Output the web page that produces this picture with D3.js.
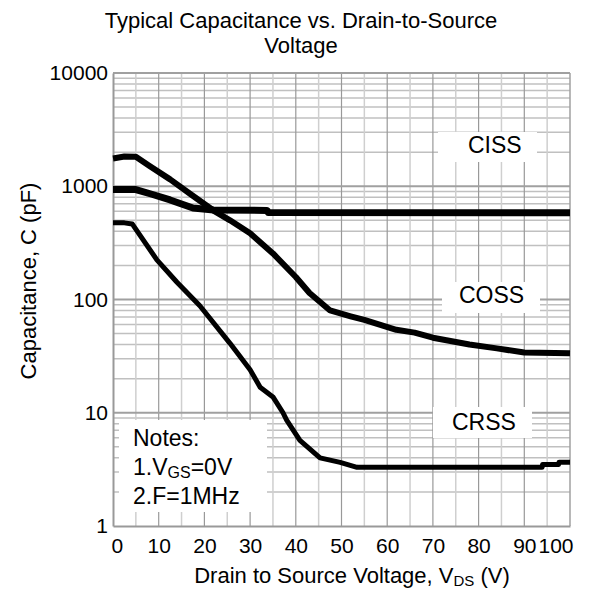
<!DOCTYPE html>
<html>
<head>
<meta charset="utf-8">
<script src="https://cdn.jsdelivr.net/npm/d3@7"></script>
<style>
  html, body { margin: 0; padding: 0; background: #fff; }
  svg { display: block; font-family: "Liberation Sans", Arial, sans-serif; }
</style>
</head>
<body>
<svg id="chart" width="591" height="599"></svg>
<script>
// ---- Data ----
const titleLines = ["Typical Capacitance vs. Drain-to-Source", "Voltage"];
const xTicks = [0, 10, 20, 30, 40, 50, 60, 70, 80, 90, 100];
const yTicks = [1, 10, 100, 1000, 10000];

const cissV = [0, 5, 8.5, 12.5, 17.5, 22, 33.7, 34, 100];
const cissC = [935, 935, 850, 757, 643, 617, 612, 585, 583];

const cossV = [0, 2.5, 5, 8, 12.5, 17, 22, 25.6, 30, 35, 40, 43, 47.5, 52, 55, 62, 66, 70, 78, 84, 90, 100];
const cossC = [1760, 1830, 1820, 1510, 1150, 850, 610, 500, 385, 255, 158, 114, 80, 71, 66, 54, 51, 46, 40, 37, 34, 33.5];

const crssV = [0, 2.5, 4.2, 6.6, 9.6, 14, 19, 25.6, 30, 32.2, 35, 37.2, 38, 40.9, 45.3, 49.7, 53.4, 93.9, 94, 97.5, 97.6, 100];
const crssC = [475, 475, 465, 336, 224, 142, 88, 41, 24, 16.8, 13.8, 10, 8.6, 5.7, 4.0, 3.65, 3.3, 3.3, 3.5, 3.5, 3.65, 3.65];

const seriesNames = ["CISS", "COSS", "CRSS"];
const notes = ["Notes:", "1.V|GS|=0V", "2.F=1MHz"];

// ---- Layout ----
const svg = d3.select("#chart");
const x = d3.scaleLinear().domain([0, 100]).range([113, 570]);
const y = d3.scaleLog().domain([1, 10000]).range([526, 73]);

// title
svg.append("g").selectAll("text").data(titleLines).join("text")
  .attr("x", 301).attr("y", (d, i) => 28 + i * 25)
  .attr("text-anchor", "middle").attr("font-size", 22).attr("fill", "#000")
  .text(d => d);

// ---- Grid ----
const grid = svg.append("g");
const minors = [];
for (let dec = 1; dec < 10000; dec *= 10) {
  for (let m = 2; m <= 9; m++) minors.push(dec * m);
}
grid.selectAll("line.hmin").data(minors).join("line")
  .attr("class", "hmin")
  .attr("x1", x(0)).attr("x2", x(100))
  .attr("y1", d => y(d)).attr("y2", d => y(d))
  .attr("stroke", "#c0c0c0").attr("stroke-width", 1.5);
const vLines = d3.range(5, 100, 5);
grid.selectAll("line.v").data(vLines).join("line")
  .attr("class", "v")
  .attr("x1", d => x(d)).attr("x2", d => x(d))
  .attr("y1", y(1)).attr("y2", y(10000))
  .attr("stroke", d => d % 10 === 0 ? "#999" : "#cfcfcf")
  .attr("stroke-width", d => d % 10 === 0 ? 1.2 : 1.5);
grid.selectAll("line.hmaj").data(yTicks.slice(1)).join("line")
  .attr("class", "hmaj")
  .attr("x1", x(0)).attr("x2", x(100))
  .attr("y1", d => y(d)).attr("y2", d => y(d))
  .attr("stroke", "#a0a0a0").attr("stroke-width", 2);
grid.append("line")
  .attr("x1", x(100)).attr("x2", x(100)).attr("y1", y(1)).attr("y2", y(10000))
  .attr("stroke", "#a0a0a0").attr("stroke-width", 1.5);

// ---- Axes ----
const xAxis = svg.append("g").attr("transform", `translate(0,${y(1)})`)
  .call(d3.axisBottom(x).tickValues(xTicks).tickSize(0).tickPadding(12).tickFormat(d3.format("d")));
xAxis.select(".domain").attr("stroke", "#999").attr("stroke-width", 2);
xAxis.selectAll("text").attr("font-size", 21).attr("fill", "#000")
  .attr("font-family", "Liberation Sans, Arial, sans-serif")
  .attr("text-anchor", d => d === 0 ? "start" : (d === 100 ? "end" : "middle"))
  .attr("dx", d => d === 0 ? -2 : (d === 100 ? 3 : 0));

const yAxis = svg.append("g").attr("transform", `translate(${x(0)},0)`)
  .call(d3.axisLeft(y).tickValues(yTicks).tickSize(0).tickPadding(5).tickFormat(d3.format("d")));
yAxis.select(".domain").attr("stroke", "#999").attr("stroke-width", 2);
yAxis.selectAll("text").attr("font-size", 21).attr("fill", "#000")
  .attr("font-family", "Liberation Sans, Arial, sans-serif");

// axis titles
const xt = svg.append("text").attr("x", 352).attr("y", 583)
  .attr("text-anchor", "middle").attr("font-size", 22).attr("fill", "#000");
xt.append("tspan").text("Drain to Source Voltage, V");
xt.append("tspan").attr("font-size", 15).attr("dy", 3).text("DS");
xt.append("tspan").attr("dy", -3).text(" (V)");

svg.append("text")
  .attr("transform", "translate(36,281) rotate(-90)")
  .attr("text-anchor", "middle").attr("font-size", 22).attr("fill", "#000")
  .text("Capacitance, C (pF)");

// ---- Curves ----
const line = d3.line().x(d => x(d[0])).y(d => y(d[1])).curve(d3.curveLinear);
const curves = [
  { v: cissV, c: cissC, w: 7 },
  { v: cossV, c: cossC, w: 6 },
  { v: crssV, c: crssC, w: 5 }
];
svg.append("g").selectAll("path").data(curves).join("path")
  .attr("d", s => line(s.v.map((v, i) => [v, s.c[i]])))
  .attr("fill", "none").attr("stroke", "#000")
  .attr("stroke-width", s => s.w)
  .attr("stroke-linejoin", "round").attr("stroke-linecap", "butt");

// ---- Series labels with white boxes ----
const labelPos = [
  { bx: 438, by: 132, bw: 99, bh: 30, tx: 468, ty: 153 },
  { bx: 442, by: 282, bw: 98, bh: 31, tx: 459, ty: 303 },
  { bx: 433, by: 407, bw: 99, bh: 31, tx: 452, ty: 430 }
];
const lg = svg.append("g").selectAll("g").data(seriesNames).join("g");
lg.append("rect")
  .attr("x", (d, i) => labelPos[i].bx).attr("y", (d, i) => labelPos[i].by)
  .attr("width", (d, i) => labelPos[i].bw).attr("height", (d, i) => labelPos[i].bh)
  .attr("fill", "#fff");
lg.append("text")
  .attr("x", (d, i) => labelPos[i].tx).attr("y", (d, i) => labelPos[i].ty)
  .attr("font-size", 23).attr("fill", "#000").text(d => d);

// ---- Notes box ----
const ng = svg.append("g");
ng.append("rect").attr("x", 119).attr("y", 420).attr("width", 148).attr("height", 92).attr("fill", "#fff");
notes.forEach((t, i) => {
  const txt = ng.append("text").attr("x", 133).attr("y", 446 + i * 29)
    .attr("font-size", 23).attr("fill", "#000");
  const parts = t.split("|");
  if (parts.length === 1) {
    txt.text(t);
  } else {
    txt.append("tspan").text(parts[0]);
    txt.append("tspan").attr("font-size", 16).attr("dy", 3).text(parts[1]);
    txt.append("tspan").attr("dy", -3).text(parts[2]);
  }
});
</script>
</body>
</html>
